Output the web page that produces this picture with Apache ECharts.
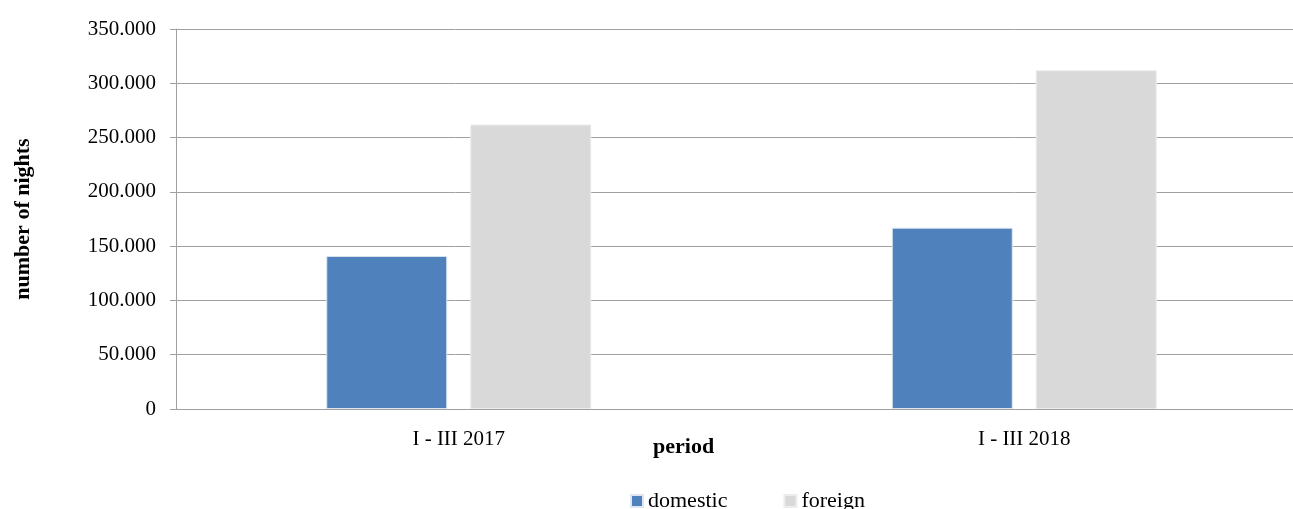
<!DOCTYPE html>
<html lang="en">
<head>
    <meta charset="UTF-8">
    <title>number of nights</title>
    <script type="text/javascript" src="https://cdn.jsdelivr.net/npm/echarts@6/dist/echarts.min.js"></script>
    <style>
        html, body { margin: 0; padding: 0; background: #fff; }
        #chart { width: 1293px; height: 509px; }
    </style>
</head>
<body>
<div id="chart"></div>
<script>
    // data
    var periods = ['I - III 2017', 'I - III 2018'];
    var domestic = [141000, 167000];
    var foreign = [262000, 312000];
    var yTicks = [0, 50000, 100000, 150000, 200000, 250000, 300000, 350000];

    var font = '"Liberation Serif", "DejaVu Serif", serif';

    // 350000 -> "350.000"
    function dotThousands(v) {
        return String(v).replace(/\B(?=(\d{3})+(?!\d))/g, '.');
    }

    var mychart = echarts.init(document.getElementById('chart'));
    var option = {
        animation: false,
        textStyle: {fontFamily: font},
        grid: {
            left: 176,
            width: 1131,
            top: 29,
            bottom: 100,
            outerBoundsMode: 'none'
        },
        legend: {
            left: 630,
            top: 490,
            padding: 0,
            itemWidth: 12,
            itemHeight: 12,
            itemGap: 56,
            icon: 'rect',
            textStyle: {fontFamily: font, fontSize: 22, color: '#000'},
            data: ['domestic', 'foreign']
        },
        graphic: [
            {
                type: 'text',
                left: 653,
                top: 436,
                style: {text: 'period', font: 'bold 22px ' + font, fill: '#000'}
            }
        ],
        xAxis: {
            type: 'category',
            data: periods,
            axisLine: {lineStyle: {color: '#a0a0a0', width: 1}},
            axisTick: {show: false},
            axisLabel: {fontFamily: font, fontSize: 21, color: '#000', margin: 20}
        },
        yAxis: {
            type: 'value',
            min: yTicks[0],
            max: yTicks[yTicks.length - 1],
            interval: yTicks[1] - yTicks[0],
            name: 'number of nights',
            nameLocation: 'middle',
            nameGap: 142,
            nameTextStyle: {fontFamily: font, fontSize: 22, fontWeight: 'bold', color: '#000'},
            axisLine: {show: true, lineStyle: {color: '#a0a0a0', width: 1}},
            axisTick: {show: true, length: 6, lineStyle: {color: '#a0a0a0'}},
            splitLine: {lineStyle: {color: '#a0a0a0', width: 1}},
            axisLabel: {
                fontFamily: font, fontSize: 21, color: '#000', margin: 20,
                formatter: dotThousands
            }
        },
        series: [
            {
                name: 'domestic',
                type: 'bar',
                data: domestic,
                barWidth: 121,
                barGap: '19%',
                itemStyle: {color: '#4f81bd', borderColor: '#dfe6f0', borderWidth: 1}
            },
            {
                name: 'foreign',
                type: 'bar',
                data: foreign,
                barWidth: 121,
                itemStyle: {color: '#d9d9d9', borderColor: '#ececec', borderWidth: 1}
            }
        ]
    };
    mychart.setOption(option);
</script>
</body>
</html>
